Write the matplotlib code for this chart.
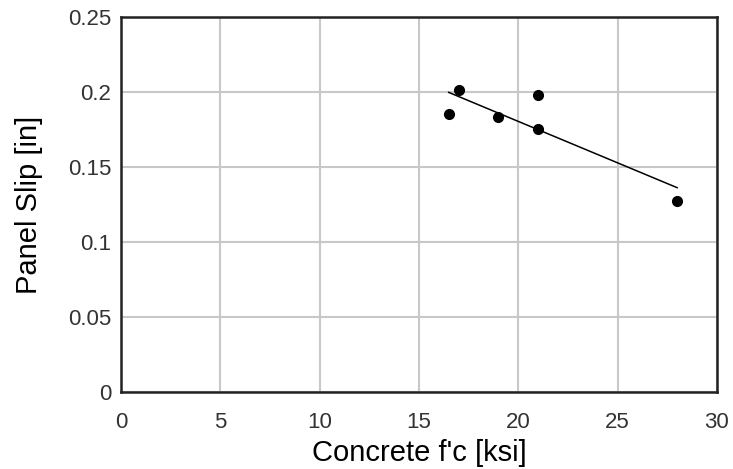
import numpy as np
import matplotlib.pyplot as plt

plt.rcParams['font.family'] = ['Liberation Sans', 'DejaVu Sans']

# measured points
fc = [16.5, 17.0, 19.0, 21.0, 21.0, 28.0]
slip = [0.185, 0.201, 0.183, 0.198, 0.175, 0.127]
# trend line endpoints
fit_x = [16.5, 28.0]
fit_y = [0.1997, 0.1362]

xticks = [0, 5, 10, 15, 20, 25, 30]
yticks = [0, 0.05, 0.1, 0.15, 0.2, 0.25]
ytick_labels = ['0', '0.05', '0.1', '0.15', '0.2', '0.25']

fig = plt.figure(figsize=(7.33, 4.69), dpi=100)
ax = fig.add_axes([0.165, 0.164, 0.813, 0.8])

ax.plot(fit_x, fit_y, color='black', lw=1.1, zorder=3)
ax.plot(fc, slip, 'o', color='black', ms=7, zorder=4)

ax.set_xlim(0, 30)
ax.set_ylim(0, 0.25)
ax.set_xticks(xticks)
ax.set_yticks(yticks)
ax.set_yticklabels(ytick_labels)
ax.grid(True, color='#c8c8c8', lw=1.5)
ax.set_axisbelow(True)
ax.tick_params(length=0, labelsize=16, labelcolor='#333333')
ax.tick_params(axis='x', pad=14)
ax.tick_params(axis='y', pad=7)
for s in ax.spines.values():
    s.set_linewidth(1.8)
    s.set_color('#222222')

ax.set_xlabel("Concrete f'c [ksi]", fontsize=21, labelpad=5)
ax.set_ylabel('Panel Slip [in]', fontsize=21, labelpad=18)

fig.savefig('out.png', dpi=100)
